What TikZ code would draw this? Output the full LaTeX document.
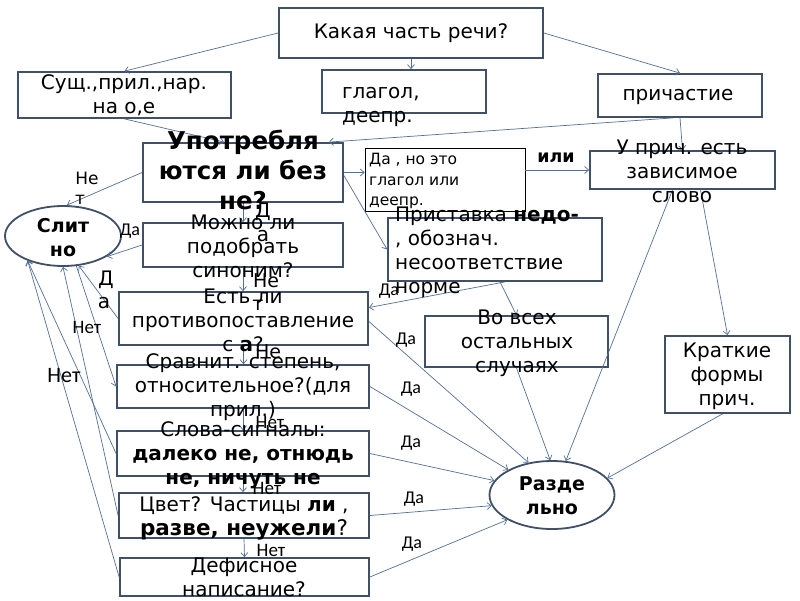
\documentclass[tikz,border=0pt]{standalone}
\usepackage{fontspec}
\setmainfont{DejaVu Sans}
\newfontfamily\calib{Carlito}
\usetikzlibrary{arrows.meta,shapes.geometric,calc}
\definecolor{boxc}{RGB}{64,80,102}
\definecolor{linkc}{RGB}{84,112,150}
\begin{document}
\begin{tikzpicture}[x=1pt,y=-1pt,
  box/.style={draw=boxc, line width=1.8pt, rectangle, inner sep=0pt},
  thinbox/.style={draw=black, line width=0.6pt, rectangle, inner sep=0pt},
  oval/.style={draw=boxc, line width=1.8pt, ellipse, inner sep=0pt},
  txt/.style={align=center, inner sep=0pt, font=\fontsize{20}{24}\selectfont},
  ltxt/.style={align=left, inner sep=0pt, font=\fontsize{20}{24}\selectfont},
  btxt/.style={align=center, inner sep=0pt, font=\bfseries\fontsize{24.5}{30}\selectfont},
  otxt/.style={align=center, inner sep=0pt, font=\bfseries\fontsize{19}{24}\selectfont},
  lab/.style={inner sep=0pt, font=\calib\fontsize{18}{20}\selectfont},
  nlab/.style={inner sep=0pt, font=\calib\fontsize{19}{20}\selectfont},
  dlab/.style={inner sep=0pt, font=\fontsize{19}{24}\selectfont},
  link/.style={draw=linkc, line width=0.7pt, -{Straight Barb[length=4pt,width=7pt]}},
]
\fill[white] (0,0) rectangle (800,600);
\useasboundingbox (0,0) rectangle (800,600);

% boxes
\node[box, minimum width=264pt, minimum height=50pt] (Q) at (411,33) {};
\node[box, minimum width=213pt, minimum height=46pt] (S) at (124.5,95) {};
\node[box, minimum width=164pt, minimum height=43pt] (G) at (404,91.5) {};
\node[box, minimum width=164pt, minimum height=43pt] (P) at (680,95.5) {};
\node[box, minimum width=200pt, minimum height=59pt] (U) at (243,172.5) {};
\node[thinbox, minimum width=160pt, minimum height=63pt] (D) at (445,179.5) {};
\node[box, minimum width=185pt, minimum height=38pt] (Z) at (682.5,170) {};
\node[box, minimum width=200pt, minimum height=44pt] (M) at (243,245) {};
\node[box, minimum width=214pt, minimum height=63pt] (N) at (495,249.5) {};
\node[box, minimum width=249pt, minimum height=53pt] (E) at (243.5,318.5) {};
\node[box, minimum width=183pt, minimum height=51pt] (V) at (516.5,341.5) {};
\node[box, minimum width=125pt, minimum height=77pt] (K) at (727.5,374.5) {};
\node[box, minimum width=252pt, minimum height=43pt] (C) at (243,386.5) {};
\node[box, minimum width=252pt, minimum height=45pt] (W) at (243,453.5) {};
\node[box, minimum width=250pt, minimum height=45pt] (Cv) at (244,515.5) {};
\node[box, minimum width=249pt, minimum height=38pt] (H) at (244.5,577) {};
\node[oval, minimum width=116pt, minimum height=60pt] (SL) at (63,236) {};
\node[oval, minimum width=125pt, minimum height=68pt] (R) at (552,495) {};

% connectors
\draw[link] (Q.west) -- (S.north);
\draw[link] (Q.south) -- (Q.south |- G.north);
\draw[link] (Q.east) -- (P.north);
\draw[link] (S.south) -- ($(U.north west)+(82,0)$);
\draw[link] ($(P.south)+(-7,0)$) -- ($(U.north east)+(-15,0)$);
\draw[link] (P.south) -- (Z.north);
\draw[link] (U.east) -- (U.east -| D.west);
\draw[link] (Z.west -| D.east) -- (Z.west);
\draw[link] ($(U.east)+(0,3)$) -- (N.west);
\draw[link] (U.west) -- ($(SL.north)+(4,0)$);
\draw[link] (U.south) -- (M.north);
\draw[link] (M.west) -- (SL.-25);
\draw[link] (M.south) -- (M.south |- E.north);
\draw[link] (E.west) -- (SL.-62);
\draw[link] (E.south) -- (E.south |- C.north);
\draw[link] (C.south) -- (W.north);
\draw[link] (W.south) -- (W.south |- Cv.north);
\draw[link] (Cv.south) -- (H.north);
\draw[link] ($(N.south)+(10,0)$) -- (E.5);
\draw[link] ($(N.south)+(5,0)$) -- (V.north);
\draw[link] ($(E.east)+(0,3)$) -- (R.126);
\draw[link] (C.east) -- (R.150);
\draw[link] (W.east) -- (R.166);
\draw[link] (Cv.east) -- (R.190);
\draw[link] (H.east) -- (R.209);
\draw[link] (V.south) -- (R.93);
\draw[link] ($(Z.south)+(-10,0)$) -- (R.68);
\draw[link] ($(Z.south)+(18,0)$) -- (K.north);
\draw[link] ($(K.south)+(-5,0)$) -- (R.17);
\draw[link] (H.west) -- (SL.215);
\draw[link] (W.west) -- (SL.215);
\draw[link] (Cv.west) -- (SL.south);
\draw[link] (SL.-66) -- (C.west);

% texts
\node[txt] (Qt) at (411,33) {Какая часть речи?};
\node[txt] (St) at (124,95) {Сущ.,прил.,нар.\\на о,е};
\node[ltxt, anchor=west] (Gt) at (342,107) {глагол,\\деепр.};
\node[txt] (Pt) at (678,97) {причастие};
\node[btxt] (Ut) at (243,170) {Употребля\\ются ли без\\не?};
\node[align=left, inner sep=0pt, anchor=west, font=\fontsize{15.5}{20.5}\selectfont] (Dt) at (369,181) {Да , но это\\глагол или\\деепр.};
\node[txt] (Zt) at (682,171.5) {У прич. есть\\зависимое\\слово};
\node[txt] (Mt) at (243,246) {Можно ли\\подобрать\\синоним?};
\node[ltxt, anchor=west] (Nt) at (395,252) {Приставка \textbf{недо-}\\, обознач.\\несоответствие\\норме};
\node[txt] (Et) at (243,320) {Есть ли\\противопоставление\\с \textbf{а}?};
\node[txt] (Vt) at (517,343) {Во всех\\остальных\\случаях};
\node[txt] (Kt) at (727,376.5) {Краткие\\формы\\прич.};
\node[txt] (Ct) at (243,387) {Сравнит. степень,\\относительное?(для\\прил.)};
\node[txt] (Wt) at (243,455) {Слова-сигналы:\\\textbf{далеко не, отнюдь}\\\textbf{не, ничуть не}};
\node[txt] (Cvt) at (244,518) {Цвет? Частицы \textbf{ли} ,\\{\fontsize{21.5}{24}\selectfont\textbf{разве, неужели}?}};
\node[txt] (Ht) at (244,577) {Дефисное\\написание?};
\node[otxt] (SLt) at (63,238) {Слит\\но};
\node[otxt] (Rt) at (552,495.5) {Разде\\льно};

% labels
\node[dlab, font=\fontsize{17}{24}\selectfont] (l1) at (87,178) {Не};
\node[dlab, font=\fontsize{17}{24}\selectfont] (l2) at (80,200) {т};
\node[lab] (l3) at (130,231) {Да};
\node[dlab, font=\fontsize{20}{24}\selectfont] (l4) at (263,212) {Д};
\node[dlab, font=\fontsize{20}{24}\selectfont] (l5) at (263,236) {а};
\node[dlab] (l6) at (266,281) {Не};
\node[dlab] (l7) at (258,305) {т};
\node[dlab, font=\fontsize{20}{24}\selectfont] (l8) at (106,280) {Д};
\node[dlab, font=\fontsize{20}{24}\selectfont] (l9) at (104,303) {а};
\node[nlab] (l10) at (87,327) {Нет};
\node[nlab, font=\calib\fontsize{22}{24}\selectfont] (l11) at (64,376) {Нет};
\node[dlab] (l12) at (268,352) {Не};
\node[nlab] (l13) at (270,422) {Нет};
\node[nlab] (l14) at (267,488) {Нет};
\node[nlab] (l15) at (271,550) {Нет};
\node[lab] (l16) at (389,291) {Да};
\node[lab] (l17) at (406,340) {Да};
\node[lab] (l18) at (411,389) {Да};
\node[lab] (l19) at (411,443) {Да};
\node[lab] (l20) at (414,499) {Да};
\node[lab] (l21) at (412,544) {Да};
\node[dlab, font=\bfseries\fontsize{17.5}{20}\selectfont] (l22) at (556,158) {или};
\end{tikzpicture}
\end{document}
